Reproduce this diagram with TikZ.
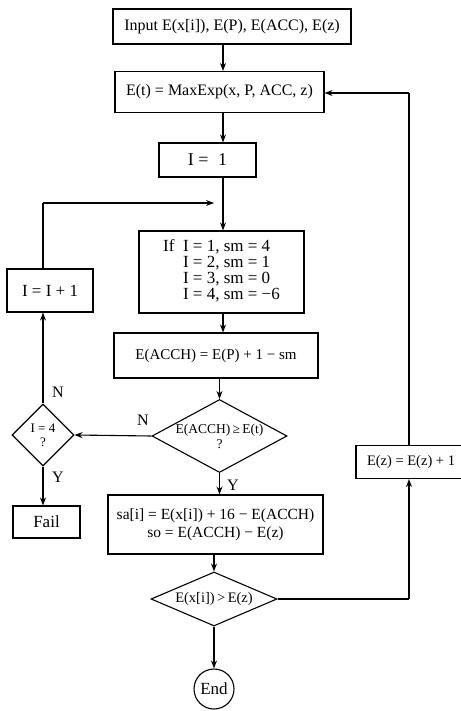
\documentclass[tikz,border=0pt]{standalone}
\usepackage{fontspec}
\setmainfont{Liberation Serif}
\usetikzlibrary{arrows.meta,shapes.geometric}
\newcommand{\fs}[1]{\fontsize{#1}{#1}\selectfont}
\begin{document}
\begin{tikzpicture}[x=1pt,y=-1pt,line width=1.1pt,
  box/.style={draw,rectangle,inner sep=0pt},
  dia/.style={draw,diamond,inner sep=0pt},
  lab/.style={font=\fs{16}},
  arr/.style={-{Stealth[length=8pt,width=6pt]}}]
\useasboundingbox (0,0) rectangle (460,711);
\coordinate (col) at (223,0);
\coordinate (rcol) at (409,0);
\coordinate (lcol) at (43,0);
\node[box,minimum width=238,minimum height=35,font=\fs{16}] (inp) at (232,26.5) {Input E(x[i]), E(P), E(ACC), E(z)};
\node[box,minimum width=209,minimum height=41,font=\fs{16}] (et) at (219.5,92) {E(t) = MaxExp(x, P, ACC, z)};
\node[box,minimum width=97,minimum height=34,font=\fs{18}] (i1) at (207.5,160) {I = \;1};
\node[box,minimum width=165,minimum height=82,font=\fontsize{17}{16}\selectfont] (ifb) at (221.5,272) {\begin{tabular}{@{}l@{\ \ }l@{}}If & I = 1, sm = 4\\ & I = 2, sm = 1\\ & I = 3, sm = 0\\ & I = 4, sm = −6\end{tabular}};
\node[box,minimum width=204,minimum height=45,font=\fs{15}] (acch) at (216,355.5) {E(ACCH) = E(P) + 1 − sm};
\node[dia,minimum width=135,minimum height=73,label={[font=\fontsize{13.5}{15}\selectfont,align=center]center:E(ACCH)\,≥\,E(t)\\?}] (d1) at (219.5,436) {};
\node[box,minimum width=215,minimum height=59,align=center,font=\fontsize{15.5}{18}\selectfont] (sa) at (215.5,524.5) {sa[i] = E(x[i]) + 16 − E(ACCH)\\so = E(ACCH) − E(z)};
\node[dia,minimum width=126,minimum height=54,label={[font=\fs{14.5}]center:E(x[i])\,>\,E(z)}] (d2) at (214,599) {};
\node[draw,circle,minimum size=40,inner sep=0pt,font=\fs{17}] (end) at (214,689) {End};
\node[box,minimum width=86,minimum height=43,font=\fs{17}] (ii) at (50,290.5) {I = I + 1};
\node[dia,minimum width=62,minimum height=62,label={[font=\fontsize{13}{14}\selectfont,align=center]center:I = 4\\?}] (d3) at (43,435) {};
\node[box,minimum width=67,minimum height=32,font=\fs{17}] (fail) at (46.5,522) {Fail};
\node[box,minimum width=110,minimum height=33,font=\fs{14.5}] (ez) at (411,462) {E(z) = E(z) + 1};
\coordinate (join) at (223,203);
\coordinate (ltop) at (43,203);
\coordinate (rtop) at (409,93);
\coordinate (rbot) at (409,599);
% labels
\node[lab] (n1) at (143,420) {N};
\node[lab] (y1) at (233,485) {Y};
\node[lab] (n2) at (58,392) {N};
\node[lab] (y2) at (58,477) {Y};
% connectors
\draw[arr] (inp.south -| col) -- (et.north -| col);
\draw[arr] (et.south -| col) -- (i1.north -| col);
\draw[arr] (i1.south -| col) -- (ifb.north -| col);
\draw[arr] (ifb.south -| col) -- (acch.north -| col);
\draw[arr] (acch.south -| d1.north) -- (d1.north);
\draw[arr] (d1.south) -- (sa.north -| d1.south);
\draw[arr] (sa.south -| d2.north) -- (d2.north);
\draw[arr] (d2.south) -- (end.north);
\draw[arr] (d1.west) -- (d3.east);
\draw[arr] (d3.north) -- (ii.south -| d3.north);
\draw[arr] (d3.south) -- (fail.north -| d3.south);
\draw (ii.north -| lcol) -- (ltop);
\draw[arr] (ltop) -- ([xshift=-9pt]join);
\draw (d2.east) -- (rbot);
\draw[arr] (rbot) -- (ez.south -| rbot);
\draw (ez.north -| rcol) -- (rtop);
\draw[arr] (rtop) -- (et.east |- rtop);
\end{tikzpicture}
\end{document}
